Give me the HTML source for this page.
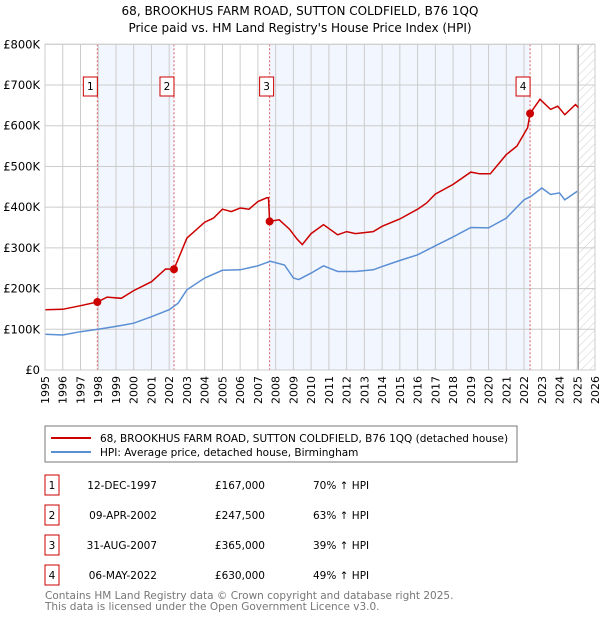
<!DOCTYPE html>
<html><head><meta charset="utf-8"><style>
body{margin:0;background:#fff;font-family:"Liberation Sans","DejaVu Sans",sans-serif;}
svg text{font-family:"DejaVu Sans","Liberation Sans",sans-serif;}
</style></head><body>
<svg id="c" width="600" height="620" xmlns="http://www.w3.org/2000/svg">
<defs><pattern id="h" width="6" height="6" patternUnits="userSpaceOnUse" patternTransform="rotate(45)"><line x1="0" y1="0" x2="0" y2="6" stroke="#ccc" stroke-width="1"/></pattern></defs>
<text x="300" y="15" text-anchor="middle" font-size="12">68, BROOKHUS FARM ROAD, SUTTON COLDFIELD, B76 1QQ</text>
<text x="300" y="32" text-anchor="middle" font-size="12">Price paid vs. HM Land Registry's House Price Index (HPI)</text>
<g id="plot"></g>
<rect x="45" y="426" width="472" height="36" fill="#fff" stroke="#777"/>
<line x1="51" y1="438" x2="91" y2="438" stroke="#cc0000" stroke-width="2"/>
<text x="100" y="442" font-size="10.5">68, BROOKHUS FARM ROAD, SUTTON COLDFIELD, B76 1QQ (detached house)</text>
<line x1="51" y1="452" x2="91" y2="452" stroke="#5b8fd4" stroke-width="2"/>
<text x="100" y="456" font-size="10.5">HPI: Average price, detached house, Birmingham</text>
<g id="tbl" font-size="10.5"></g>
<text x="45" y="599" font-size="10.5" fill="#777">Contains HM Land Registry data © Crown copyright and database right 2025.</text>
<text x="45" y="610" font-size="10.5" fill="#777">This data is licensed under the Open Government Licence v3.0.</text>
</svg>
<script>
const hpiYears=[1995,1996,1997,1998,1999,2000,2001,2002,2002.5,2003,2004,2005,2006,2007,2007.7,2008.5,2009,2009.3,2010,2010.7,2011.5,2012.5,2013.5,2014,2015,2016,2017,2018,2019,2020,2021,2022,2022.4,2023,2023.5,2024,2024.3,2025];
const hpiValues=[88,86,94,100,107,115,131,148,164,197,226,245,246,256,267,258,226,222,238,256,242,242,246,254,269,283,305,327,350,349,373,418,427,447,431,435,418,439];
const ppYears=[1995,1996,1997,1997.95,1998.5,1999.3,2000,2001,2001.8,2002.27,2003,2004,2004.5,2005,2005.5,2006,2006.5,2007,2007.5,2007.6,2007.66,2008.2,2008.8,2009.2,2009.5,2010,2010.7,2011.5,2012,2012.5,2013.5,2014,2015,2016,2016.5,2017,2018,2019,2019.5,2020.1,2021,2021.6,2022.2,2022.34,2022.9,2023.5,2023.9,2024.3,2024.9,2025.06];
const ppValues=[148,149,158,167,179,176,195,217,248,247.5,324,363,373,395,389,398,395,414,423,423,365,369,345,322,308,335,357,332,340,335,340,353,371,395,410,432,456,486,482,482,529,550,595,630,665,640,648,627,652,645];
const saleIds=["1","2","3","4"];
const saleYears=[1997.95,2002.27,2007.66,2022.34];
const saleValues=[167,247.5,365,630];
const saleDates=["12-DEC-1997","09-APR-2002","31-AUG-2007","06-MAY-2022"];
const salePrices=["£167,000","£247,500","£365,000","£630,000"];
const salePcts=["70% ↑ HPI","63% ↑ HPI","39% ↑ HPI","49% ↑ HPI"];
const yTicks=[0,100,200,300,400,500,600,700,800];
const yTickLabels=["£0","£100K","£200K","£300K","£400K","£500K","£600K","£700K","£800K"];
const xTicks=[1995,1996,1997,1998,1999,2000,2001,2002,2003,2004,2005,2006,2007,2008,2009,2010,2011,2012,2013,2014,2015,2016,2017,2018,2019,2020,2021,2022,2023,2024,2025,2026];
const hatchStart=2025.06;

const NS="http://www.w3.org/2000/svg";
const X0=45,X1=595,Y0=370,Y1=44.3;
const xs=y=>X0+(y-1995)/31*(X1-X0);
const ys=v=>Y0-v/800*(Y0-Y1);
const g=document.getElementById('plot');
function mk(t,a,p){const e=document.createElementNS(NS,t);for(const k in a)e.setAttribute(k,a[k]);(p||g).appendChild(e);return e;}
// shaded spans
for(let i=0;i<saleYears.length;i+=2){
 const r=mk('rect',{x:xs(saleYears[i]),y:Y1,width:xs(saleYears[i+1])-xs(saleYears[i]),height:Y0-Y1,fill:'#f2f6fe'});
 
 
}
const hr=mk('rect',{x:xs(hatchStart),y:Y1,width:X1-xs(hatchStart),height:Y0-Y1,fill:'url(#h)'});


// grid
xTicks.forEach(t=>{
 const l=mk('line',{x1:xs(t),x2:xs(t),y1:Y1,y2:Y0,stroke:'#ccc','stroke-width':1});
 
 
 const tx=mk('text',{x:0,y:0,'font-size':11,'text-anchor':'end',transform:`translate(${xs(t)+4},${Y0+6}) rotate(-90)`});
 tx.textContent=t;
 
 
});
yTicks.forEach((t,i)=>{
 const l=mk('line',{x1:X0,x2:X1,y1:ys(t),y2:ys(t),stroke:'#ccc','stroke-width':1});
 
 
 const tx=mk('text',{x:X0-5,y:ys(t)+4,'font-size':11.5,'text-anchor':'end'});
 tx.textContent=yTickLabels[i];
 
 
});
const hl=mk('line',{x1:xs(hatchStart),x2:xs(hatchStart),y1:Y1,y2:Y0,stroke:'#888','stroke-width':1});


// sale vlines
saleYears.forEach(s=>{
 const l=mk('line',{x1:xs(s),x2:xs(s),y1:Y1,y2:Y0,stroke:'#e06060','stroke-width':1,'stroke-dasharray':'2,2'});
 
 
});
function pts(a,b){return a.map((y,i)=>xs(y).toFixed(1)+','+ys(b[i]).toFixed(1)).join(' ');}
const hp=mk('polyline',{points:pts(hpiYears,hpiValues),fill:'none',stroke:'#5b8fd4','stroke-width':1.5});


const pp=mk('polyline',{points:pts(ppYears,ppValues),fill:'none',stroke:'#cc0000','stroke-width':1.5});


saleYears.forEach((s,i)=>{
 const c=mk('circle',{cx:xs(s),cy:ys(saleValues[i]),r:4,fill:'#cc0000'});
 
 
 const bx=xs(s)-(i==2?3:7);
 const r=mk('rect',{x:bx-7,y:77,width:14,height:19,fill:'#fff',stroke:'#cc0000'});
 
 
 const t=mk('text',{x:bx,y:90,'font-size':10.5,'text-anchor':'middle'});
 t.textContent=saleIds[i];
 
 
});
mk('rect',{x:X0,y:Y1,width:X1-X0,height:Y0-Y1,fill:'none',stroke:'#ccc'});
// table
const tb=document.getElementById('tbl');
const rowY=[487,517,547,577];
saleIds.forEach((id,i)=>{
 const y=rowY[i];
 const r=mk('rect',{x:45,y:y-12,width:14,height:20,fill:'#fff',stroke:'#cc0000'},tb);
 
 
 const cells=[[52,'middle',id,'row-number'],[157,'end',saleDates[i],'sale-date'],[265,'end',salePrices[i],'sale-price'],[313,'start',salePcts[i],'hpi-change']];
 cells.forEach(c=>{
  const t=mk('text',{x:c[0],y:y+2,'text-anchor':c[1]},tb);
  t.textContent=c[2];
  
  
 });
});
</script>
</body></html>
